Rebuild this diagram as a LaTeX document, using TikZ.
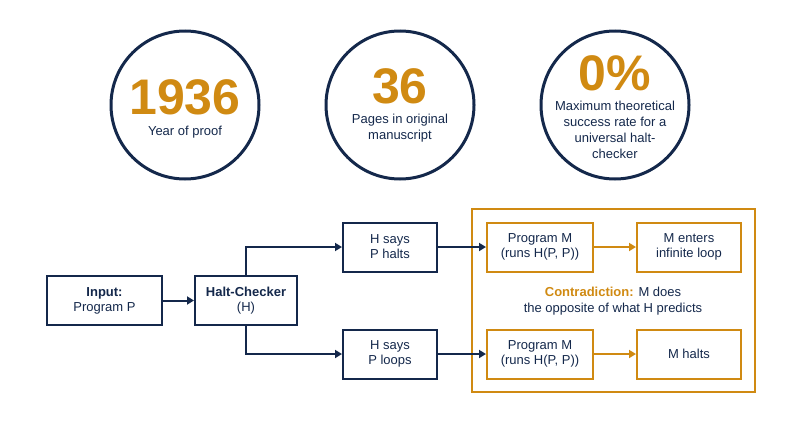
\documentclass[tikz,border=0pt]{standalone}
\usepackage{fontspec}
\setmainfont{Liberation Sans}
\usetikzlibrary{arrows.meta}
\definecolor{navy}{HTML}{14284B}
\definecolor{gold}{HTML}{D08A12}
\begin{document}
\begin{tikzpicture}[x=1pt,y=-1pt,
  circ/.style={draw=navy,line width=3pt,circle,minimum size=148pt,inner sep=0pt},
  big/.style={text=gold,font=\bfseries\fontsize{50}{50}\selectfont},
  small/.style={text=navy,font=\fontsize{13}{16}\selectfont,align=center},
  box/.style={draw=navy,line width=2pt,minimum width=#1,minimum height=49pt,align=center,text=navy,font=\fontsize{13}{15}\selectfont},
  obox/.style={draw=gold,line width=2pt,minimum width=#1,minimum height=49pt,align=center,text=navy,font=\fontsize{13}{15}\selectfont},
  arr/.style={draw=navy,line width=2pt,-{Triangle[length=7pt,width=8pt]}},
  oarr/.style={draw=gold,line width=2pt,-{Triangle[length=7pt,width=8pt]}}]
\useasboundingbox (0,0) rectangle (800,447);
\node[circ] (c1) at (185,105) {};
\node[circ] (c2) at (400,105) {};
\node[circ] (c3) at (615,105) {};
\node[big] (n1) at (185,97) {1936};
\node[small] (t1) at (185,132) {Year of proof};
\node[big] (n2) at (400,86) {36};
\node[small] (t2) at (400,128) {Pages in original\\manuscript};
\node[big] (n3) at (615,73) {0\%};
\node[small] (t3) at (615,130) {Maximum theoretical\\success rate for a\\universal halt-\\checker};
\node[draw=gold,line width=2pt,minimum width=283pt,minimum height=183pt] (frame) at (613.5,300.5) {};
\node[box=115pt] (in) at (104.5,300.5) {\textbf{Input:}\\Program P};
\node[box=102pt] (hc) at (246,300.5) {\textbf{Halt-Checker}\\(H)};
\node[box=94pt] (hh) at (390,247) {H says\\P halts};
\node[box=94pt] (hl) at (390,354) {H says\\P loops};
\node[obox=106pt] (m1) at (540,247) {Program M\\(runs H(P, P))};
\node[obox=104pt] (e1) at (689,247) {M enters\\infinite loop};
\node[obox=106pt] (m2) at (540,354) {Program M\\(runs H(P, P))};
\node[obox=104pt] (e2) at (689,354) {M halts};
\node[align=center,text=navy,font=\fontsize{13}{16}\selectfont] (ct) at (613,301) {\textcolor{gold}{\textbf{Contradiction:}} M does\\the opposite of what H predicts};
\draw[arr] (in) -- (hc);
\draw[arr] (hc.north) |- (hh.west);
\draw[arr] (hc.south) |- (hl.west);
\draw[arr] (hh) -- (m1);
\draw[arr] (hl) -- (m2);
\draw[oarr] (m1) -- (e1);
\draw[oarr] (m2) -- (e2);
\end{tikzpicture}
\end{document}
